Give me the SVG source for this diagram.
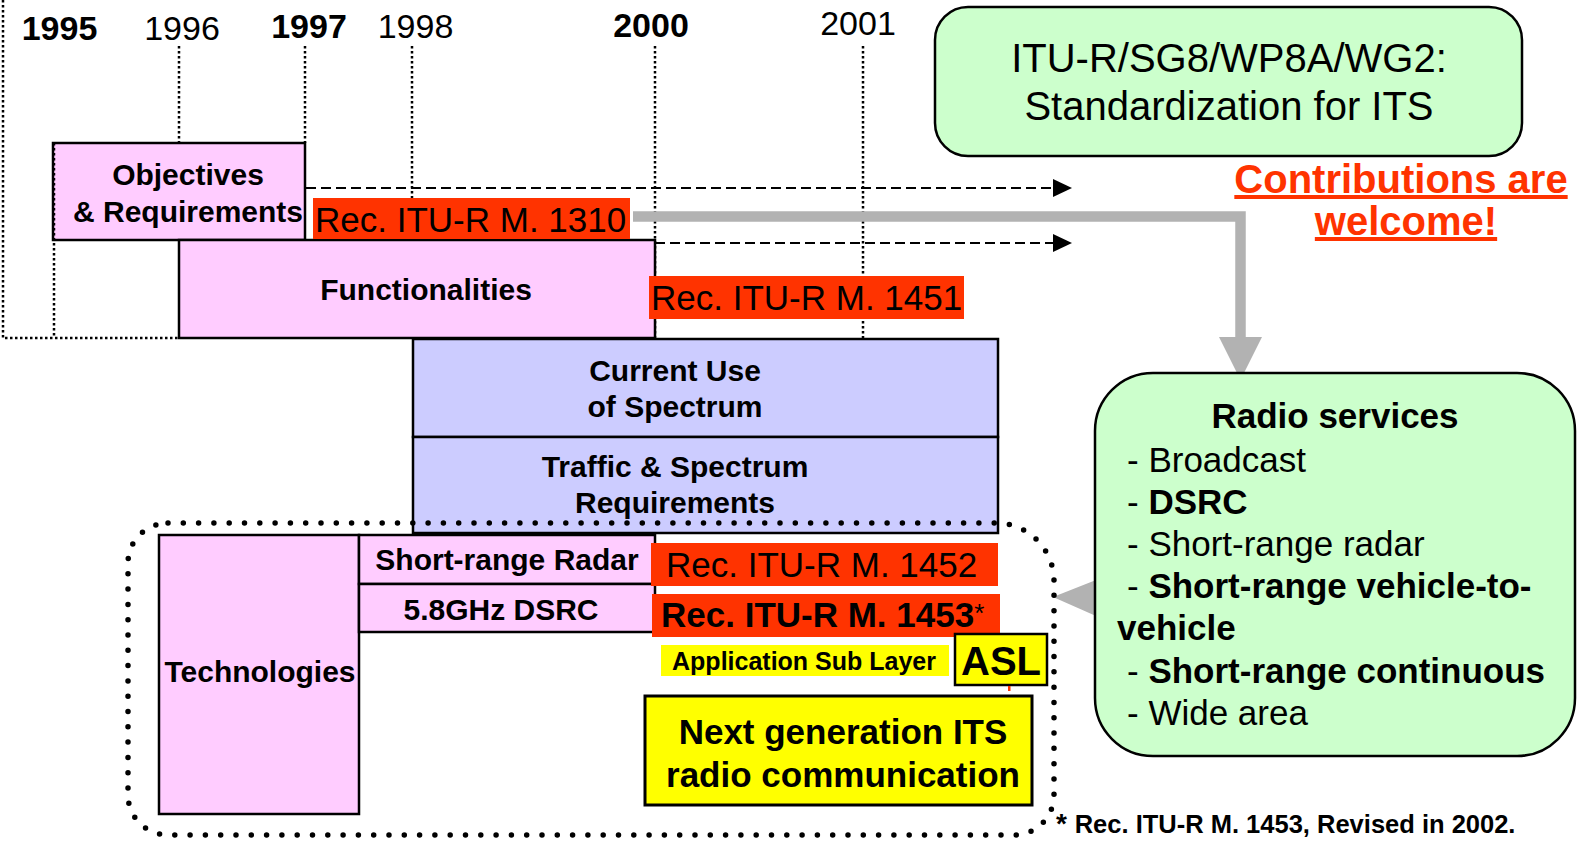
<svg xmlns="http://www.w3.org/2000/svg" width="1580" height="841" viewBox="0 0 1580 841">
<style>
text{font-family:"Liberation Sans",Arial,sans-serif;fill:#000}
.b{font-weight:bold}
.yr{font-size:34px;text-anchor:middle}
.lbl{font-size:30px;font-weight:bold;text-anchor:middle}
.rec{font-size:35px}
.tl{fill:none;stroke:#000;stroke-width:2.5;stroke-dasharray:2.5 2.5}
.pink{fill:#FFCCFF;stroke:#000;stroke-width:2.5}
.lav{fill:#CCCCFF;stroke:#000;stroke-width:2.5}
.green{fill:#CCFFCC;stroke:#000;stroke-width:2.5}
.red{fill:#FF3300}
.dash{fill:none;stroke:#000;stroke-width:2;stroke-dasharray:10 5}
.svc{font-size:35px}
</style>
<rect width="1580" height="841" fill="#fff"/>

<g id="timeline">
  <text class="yr b" x="59.5" y="40">1995</text>
  <text class="yr" x="182" y="40">1996</text>
  <text class="yr b" x="309" y="38">1997</text>
  <text class="yr" x="415.5" y="38">1998</text>
  <text class="yr b" x="651" y="37">2000</text>
  <text class="yr" x="858" y="35">2001</text>
  <path class="tl" d="M3,0 V338 H179"/>
  <path class="tl" d="M179,46 V240"/>
  <path class="tl" d="M305,46 V143"/>
  <path class="tl" d="M412,46 V338"/>
  <path class="tl" d="M655,46 V338"/>
  <path class="tl" d="M863,46 V338"/>
</g>

<g id="connectors">
  <path class="dash" d="M306,188 H1055"/>
  <polygon points="1053,179 1072,188 1053,197" fill="#000"/>
  <path class="dash" d="M655,243 H1055"/>
  <polygon points="1053,234 1072,243 1053,252" fill="#000"/>
  <path d="M633,216.5 H1240.5 V338" fill="none" stroke="#B2B2B2" stroke-width="10.5"/>
  <polygon points="1219,337 1262,337 1240.5,380" fill="#B2B2B2"/>
  <polygon points="1053,597 1096,580 1096,616" fill="#B2B2B2"/>
</g>

<g id="objectives">
  <rect class="pink" x="53" y="143" width="252" height="97"/>
  <text class="lbl" x="188" y="185">Objectives</text>
  <text class="lbl" x="188" y="222">&amp; Requirements</text>
</g>
<path class="tl" d="M54,143 V338"/>

<g id="functionalities">
  <rect class="pink" x="179" y="240" width="476" height="98"/>
  <text class="lbl" x="426" y="300">Functionalities</text>
</g>

<g id="rec1310">
  <rect class="red" x="313" y="198" width="317" height="41"/>
  <text class="rec" x="315" y="232">Rec. ITU-R M. 1310</text>
</g>

<g id="rec1451">
  <rect class="red" x="649" y="276" width="315" height="43"/>
  <text class="rec" x="651" y="310">Rec. ITU-R M. 1451</text>
</g>

<g id="current-use">
  <rect class="lav" x="413" y="339" width="585" height="98"/>
  <text class="lbl" x="675" y="381">Current Use</text>
  <text class="lbl" x="675" y="417">of Spectrum</text>
</g>

<g id="traffic">
  <rect class="lav" x="413" y="437" width="585" height="96"/>
  <text class="lbl" x="675" y="477">Traffic &amp; Spectrum</text>
  <text class="lbl" x="675" y="513">Requirements</text>
</g>

<g id="technologies">
  <rect class="pink" x="159" y="535" width="200" height="279"/>
  <text class="lbl" x="260" y="682">Technologies</text>
</g>

<g id="short-range-radar">
  <rect class="pink" x="359" y="535" width="296" height="49"/>
  <text class="lbl" x="507" y="570">Short-range Radar</text>
</g>

<g id="dsrc">
  <rect class="pink" x="359" y="584" width="296" height="48"/>
  <text class="lbl" x="501" y="620">5.8GHz DSRC</text>
</g>

<g id="rec1452">
  <rect class="red" x="651" y="543" width="347" height="43"/>
  <text class="rec" x="666" y="577">Rec. ITU-R M. 1452</text>
</g>

<g id="rec1453">
  <rect class="red" x="652" y="594" width="348" height="43"/>
  <text class="rec b" x="661" y="627">Rec. ITU-R M. 1453<tspan font-size="26" font-weight="normal" dy="-5">*</tspan></text>
</g>

<g id="asl-label">
  <rect x="661" y="645" width="288" height="31" fill="#FFFF00"/>
  <text class="b" x="804" y="670" font-size="25" text-anchor="middle">Application Sub Layer</text>
</g>

<g id="asl">
  <rect x="955" y="634" width="92" height="51" fill="#FFFF00" stroke="#000" stroke-width="2.5"/>
  <text class="b" x="1001" y="675" font-size="40" text-anchor="middle">ASL</text>
  <rect x="1008" y="686" width="2.5" height="5" fill="#FF3300"/>
</g>

<g id="next-gen">
  <rect x="645" y="696" width="387" height="109" fill="#FFFF00" stroke="#000" stroke-width="3"/>
  <text class="b" x="843" y="744" font-size="35" text-anchor="middle">Next generation ITS</text>
  <text class="b" x="843" y="787" font-size="35" text-anchor="middle">radio communication</text>
</g>

<g id="technologies-frame">
  <path d="M168,523 H996 A58,58 0 0 1 1054,581 V795 A40,40 0 0 1 1014,835 H168 A40,40 0 0 1 128,795 V563 A40,40 0 0 1 168,523 Z" fill="none" stroke="#000" stroke-width="5.5" stroke-linecap="round" stroke-dasharray="0 15.3"/>
</g>

<g id="itu-box">
  <rect class="green" x="935" y="7" width="587" height="149" rx="33" ry="33"/>
  <text x="1229" y="72" font-size="40" text-anchor="middle">ITU-R/SG8/WP8A/WG2:</text>
  <text x="1229" y="120" font-size="40" text-anchor="middle">Standardization for ITS</text>
</g>

<g id="contributions">
  <text class="b" x="1401" y="193" font-size="40" text-anchor="middle" style="fill:#FF3300" text-decoration="underline">Contributions are</text>
  <text class="b" x="1406" y="235" font-size="40" text-anchor="middle" style="fill:#FF3300" text-decoration="underline">welcome!</text>
</g>

<g id="radio-services">
  <rect class="green" x="1095" y="373" width="480" height="383" rx="58" ry="58"/>
  <text class="b svc" x="1335" y="428" text-anchor="middle">Radio services</text>
  <text class="svc" x="1127" y="472">- Broadcast</text>
  <text class="svc" x="1127" y="514">- <tspan class="b">DSRC</tspan></text>
  <text class="svc" x="1127" y="556">- Short-range radar</text>
  <text class="svc" x="1127" y="598">- <tspan class="b">Short-range vehicle-to-</tspan></text>
  <text class="svc b" x="1117" y="640">vehicle</text>
  <text class="svc" x="1127" y="683">- <tspan class="b">Short-range continuous</tspan></text>
  <text class="svc" x="1127" y="725">- Wide area</text>
</g>

<g id="footnote">
  <text class="b" x="1056" y="833" font-size="28">* <tspan font-size="25.5">Rec. ITU-R M. 1453, Revised in 2002.</tspan></text>
</g>
</svg>
